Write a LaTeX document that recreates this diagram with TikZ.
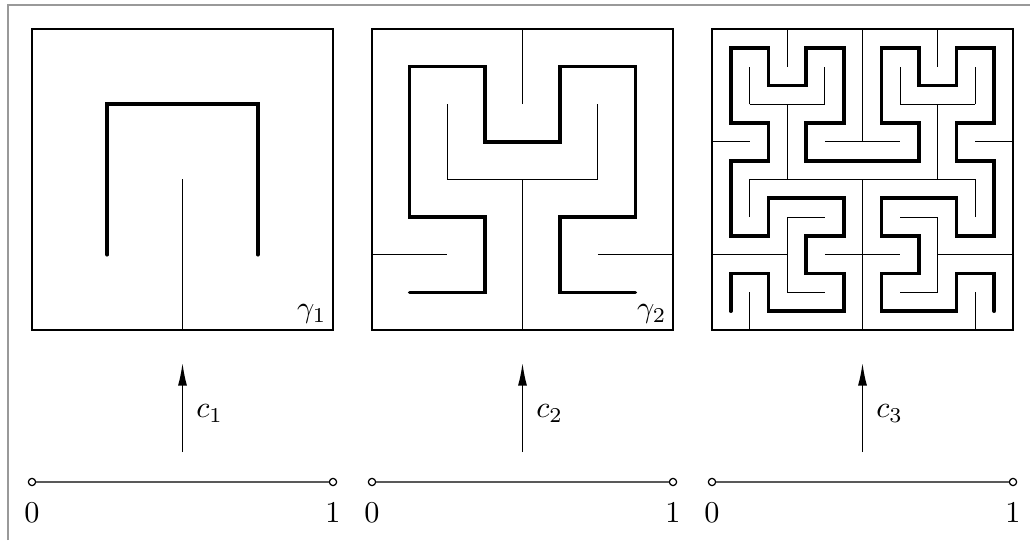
\documentclass[tikz,border=0pt]{standalone}
\usepackage{tikz}
\usetikzlibrary{positioning, arrows.meta}
\tikzset{
  curve/.style={line width=1.2pt, line cap=round},
  wall/.style={line width=0.4pt},
  endpt/.style={draw, circle, fill=white, inner sep=0pt, minimum size=2.4pt, line width=0.4pt},
  unitline/.style={line width=0.6pt, black!65}
}

\begin{document}
\begin{tikzpicture}[x=0.011628cm, y=0.011628cm, >={Latex[length=7.5pt,width=3pt]}]
  \useasboundingbox (0,0) rectangle (1030,540);
  \draw[black!40, line width=0.5pt] (8,0) -- (8,535) -- (1030,535);

  % gamma_1
  \begin{scope}[shift={(32,210)}, scale=150.5]
    \draw[wall] (0,0) rectangle (2,2);
    \draw[wall] (1,0) -- (1,1);
    \draw[curve] (0.5,0.5) -- (0.5,1.5) -- (1.5,1.5) -- (1.5,0.5);
    \node[anchor=south east, inner sep=2pt] (g1) at (2,0) {$\gamma_1$};
  \end{scope}

  % gamma_2
  \begin{scope}[shift={(372,210)}, scale=75.25]
    \draw[wall] (0,0) rectangle (4,4);
    \draw[wall] (2,0) -- (2,2) (2,3) -- (2,4) (1,3) -- (1,2) -- (3,2) -- (3,3)
                (0,1) -- (1,1) (3,1) -- (4,1);
    \draw[curve, shift={(0.5,0.5)}] (0,0) -- (1,0) -- (1,1) -- (0,1) -- (0,3) -- (1,3) -- (1,2)
      -- (2,2) -- (2,3) -- (3,3) -- (3,1) -- (2,1) -- (2,0) -- (3,0);
    \node[anchor=south east, inner sep=2pt] (g2) at (4,0) {$\gamma_2$};
  \end{scope}

  % gamma_3
  \begin{scope}[shift={(712,210)}, scale=37.625]
    \draw[wall] (0,0) rectangle (8,8);
    \draw[wall] (1,0) -- (1,1) (1,3) -- (1,4) (1,6) -- (1,7) (2,4) -- (2,6) (2,7) -- (2,8)
                (3,6) -- (3,7) (4,0) -- (4,4) (4,5) -- (4,8) (5,6) -- (5,7) (6,4) -- (6,6)
                (6,7) -- (6,8) (7,0) -- (7,1) (7,3) -- (7,4) (7,6) -- (7,7)
                (3,1) -- (2,1) -- (2,3) -- (3,3) (5,1) -- (6,1) -- (6,3) -- (5,3)
                (0,2) -- (2,2) (3,2) -- (5,2) (6,2) -- (8,2) (1,4) -- (7,4)
                (0,5) -- (1,5) (3,5) -- (5,5) (7,5) -- (8,5) (1,6) -- (3,6) (5,6) -- (7,6);
    \draw[curve, shift={(0.5,0.5)}]
      (0,0) -- (0,1) -- (1,1) -- (1,0) -- (2,0) -- (3,0) -- (3,1) -- (2,1)
      -- (2,2) -- (3,2) -- (3,3) -- (2,3) -- (1,3) -- (1,2) -- (0,2) -- (0,3)
      -- (0,4) -- (1,4) -- (1,5) -- (0,5) -- (0,6) -- (0,7) -- (1,7) -- (1,6)
      -- (2,6) -- (2,7) -- (3,7) -- (3,6) -- (3,5) -- (2,5) -- (2,4) -- (3,4)
      -- (4,4) -- (5,4) -- (5,5) -- (4,5) -- (4,6) -- (4,7) -- (5,7) -- (5,6)
      -- (6,6) -- (6,7) -- (7,7) -- (7,6) -- (7,5) -- (6,5) -- (6,4) -- (7,4)
      -- (7,3) -- (7,2) -- (6,2) -- (6,3) -- (5,3) -- (4,3) -- (4,2) -- (5,2)
      -- (5,1) -- (4,1) -- (4,0) -- (5,0) -- (6,0) -- (6,1) -- (7,1) -- (7,0);
  \end{scope}

  % maps c_n
  \coordinate (t1) at (182.5,88);  \coordinate (h1) at (182.5,177);
  \coordinate (t2) at (522.5,88);  \coordinate (h2) at (522.5,177);
  \coordinate (t3) at (862.5,88);  \coordinate (h3) at (862.5,177);
  \draw[->, line width=0.5pt] (t1) -- node[right=1pt, yshift=-2pt] (c1) {$c_1$} (h1);
  \draw[->, line width=0.5pt] (t2) -- node[right=1pt, yshift=-2pt] (c2) {$c_2$} (h2);
  \draw[->, line width=0.5pt] (t3) -- node[right=1pt, yshift=-2pt] (c3) {$c_3$} (h3);

  % unit intervals
  \node[endpt] (a1) at (32,58) {};   \node[endpt] (b1) at (333,58) {};
  \node[endpt] (a2) at (372,58) {};  \node[endpt] (b2) at (673,58) {};
  \node[endpt] (a3) at (712,58) {};  \node[endpt] (b3) at (1013,58) {};
  \draw[unitline] (a1) -- (b1);
  \draw[unitline] (a2) -- (b2);
  \draw[unitline] (a3) -- (b3);
  \node[below=2pt of a1] (zero1) {$0$};  \node[below=2pt of b1] (one1) {$1$};
  \node[below=2pt of a2] (zero2) {$0$};  \node[below=2pt of b2] (one2) {$1$};
  \node[below=2pt of a3] (zero3) {$0$};  \node[below=2pt of b3] (one3) {$1$};
\end{tikzpicture}
\end{document}
